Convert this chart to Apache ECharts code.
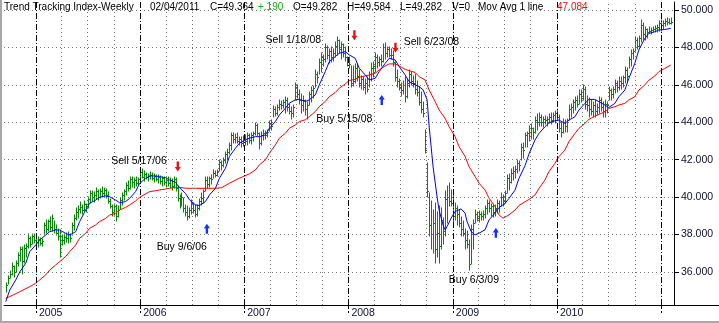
<!DOCTYPE html>
<html><head><meta charset="utf-8">
<script src="https://cdn.jsdelivr.net/npm/echarts@6/dist/echarts.min.js"></script>
<style>html,body{margin:0;padding:0;background:#fff}#c{width:719px;height:323px}</style>
</head><body><div id="c"></div>
<script>
// ---- data (weekly bars, first bar week ending 2004-09-17) ----
const firstWeek = '2004-09-17';
const lows = [
34.95,35.35,35.65,35.85,35.75,36.00,36.30,36.60,35.90,36.50,
36.80,37.30,37.35,37.50,37.55,37.40,37.35,37.45,37.40,37.95,
38.10,38.20,38.25,38.20,38.10,37.95,37.70,36.80,37.45,37.50,
37.60,37.55,37.60,37.95,38.25,38.80,38.90,39.15,39.10,39.25,
39.20,39.40,39.70,39.80,39.75,39.90,39.85,39.95,40.00,40.05,
39.95,39.70,39.40,39.00,39.05,38.70,38.95,39.35,39.60,39.85,
40.10,40.30,40.45,40.55,40.50,40.60,40.65,40.80,41.00,40.85,
40.95,40.85,40.95,40.90,40.80,40.85,40.75,40.70,40.60,40.65,
40.55,40.60,40.50,40.40,40.50,40.30,39.80,39.40,39.50,39.20,
39.00,38.80,38.90,39.10,39.15,38.95,39.00,39.30,39.55,39.70,
40.30,40.50,40.55,40.70,41.00,41.10,41.15,41.40,41.45,41.60,
41.80,42.00,42.30,42.50,42.90,42.90,42.90,42.80,42.70,42.75,
42.80,42.80,42.90,42.85,43.00,43.30,43.25,42.55,42.80,43.05,
43.10,43.20,43.55,43.60,44.30,44.35,44.40,44.65,44.70,44.75,
44.50,44.60,44.45,44.15,44.30,45.20,45.30,45.00,44.50,44.60,
44.40,44.15,44.90,45.10,45.30,45.90,46.10,46.60,46.70,47.00,
47.20,47.40,47.15,47.20,47.30,47.50,47.60,47.70,47.40,47.50,
47.30,47.00,46.90,45.90,45.95,46.10,46.20,45.90,45.80,45.70,
45.50,45.60,45.90,46.20,46.40,46.70,46.90,47.00,47.00,47.20,
47.40,47.50,47.50,47.40,47.00,46.20,45.90,45.70,45.40,45.50,
45.10,45.30,45.90,46.00,45.90,45.50,45.40,44.90,44.50,44.30,
42.35,40.00,37.90,37.20,37.00,36.50,36.80,36.45,37.20,37.50,
37.90,38.60,39.50,39.50,38.60,38.80,38.50,38.40,37.90,37.90,
37.20,37.30,36.10,36.40,37.20,38.60,38.70,38.65,38.80,38.80,
38.90,39.10,39.20,39.00,38.95,39.00,39.15,39.20,39.50,39.50,
39.70,40.20,40.40,40.75,40.90,41.00,41.30,41.40,42.00,42.10,
42.70,42.70,43.00,43.10,43.10,43.40,43.60,43.80,43.80,43.75,
43.90,43.80,43.95,43.90,44.00,43.95,44.10,43.50,43.20,43.40,
43.50,43.50,44.10,44.30,44.50,44.65,44.80,45.00,45.10,45.20,
44.70,44.60,44.30,44.40,44.30,44.30,44.40,44.50,44.60,44.30,
44.30,44.50,45.20,45.20,45.30,45.55,45.60,45.70,45.80,45.90,
46.10,46.20,46.90,47.00,47.40,47.80,47.90,48.00,48.30,48.40,
48.40,48.50,48.75,48.70,48.80,48.80,48.85,48.90,48.90,49.00,
49.15,49.20,49.25,49.28];
const highs = [
35.40,35.80,36.05,36.45,36.30,36.60,37.00,37.35,37.35,37.45,
37.50,38.00,37.85,38.00,38.00,37.95,37.85,37.80,37.75,38.60,
38.75,38.80,38.95,39.05,38.70,38.50,38.30,38.25,37.95,38.00,
38.10,38.15,38.05,38.60,39.05,39.40,39.50,39.75,39.60,39.80,
39.65,40.00,40.30,40.35,40.25,40.50,40.40,40.45,40.55,40.50,
40.45,40.25,39.90,39.60,39.65,39.55,39.50,39.95,40.20,40.40,
40.75,40.85,41.05,41.10,41.00,41.05,41.00,41.55,41.50,41.40,
41.30,41.25,41.35,41.30,41.25,41.20,41.20,41.15,41.10,41.05,
41.00,41.05,41.00,40.95,41.10,41.00,40.60,40.10,40.20,39.95,
39.60,39.50,39.40,39.85,39.70,39.60,39.55,39.90,40.20,40.40,
41.10,41.05,41.10,41.20,41.45,41.40,41.45,42.00,41.95,42.10,
42.40,42.55,42.90,43.40,43.40,43.35,43.40,43.20,43.20,43.25,
43.30,43.40,43.35,43.40,43.50,43.95,43.90,43.40,43.50,43.60,
43.55,43.60,44.05,44.10,44.85,44.80,44.90,45.20,45.15,45.20,
45.35,45.30,45.00,44.80,44.90,46.10,46.00,45.75,45.50,45.40,
45.20,45.10,45.60,45.90,45.95,46.80,46.70,47.40,47.70,47.60,
48.20,48.10,47.90,48.05,47.90,48.30,48.55,48.40,48.30,48.20,
48.00,47.50,47.50,47.00,47.00,47.10,47.10,46.80,46.50,46.40,
46.30,46.40,46.70,47.15,47.20,47.70,47.60,47.50,47.60,48.20,
48.25,48.00,48.05,47.90,47.80,47.20,46.80,46.30,46.10,46.20,
46.40,46.30,46.80,46.70,46.50,46.60,46.20,45.90,45.60,45.10,
43.60,41.80,40.20,39.80,39.30,39.70,39.20,39.50,39.40,38.90,
40.30,40.60,40.75,40.40,40.20,39.70,39.50,39.30,38.95,38.70,
38.30,38.20,37.70,38.50,38.80,39.30,39.20,39.25,39.20,39.25,
39.50,39.85,39.80,39.65,39.60,39.55,39.85,39.80,40.20,40.10,
40.30,41.20,41.25,41.50,41.60,41.65,42.00,41.95,42.85,42.90,
43.40,43.50,43.80,43.90,43.70,44.30,44.45,44.50,44.40,44.30,
44.35,44.30,44.45,44.50,44.50,44.60,44.70,44.40,44.00,44.20,
44.10,44.20,44.90,45.00,45.20,45.35,45.40,45.70,45.75,46.00,
45.90,45.40,45.30,45.20,45.10,45.20,45.00,45.35,45.30,45.10,
45.20,45.10,45.90,45.80,45.90,46.25,46.20,46.40,46.40,46.50,
46.95,46.90,47.50,47.85,47.90,48.55,48.50,48.60,49.45,49.30,
49.10,49.00,49.10,49.05,49.10,49.15,49.20,49.40,49.45,49.40,
49.50,49.55,49.50,49.58];
const closes = [
35.30,35.70,35.90,36.30,36.00,36.50,36.90,37.20,36.60,37.30,
37.40,37.80,37.50,37.90,37.70,37.60,37.75,37.55,37.65,38.50,
38.30,38.70,38.40,38.90,38.30,38.10,37.90,37.50,37.70,37.85,
37.80,38.05,37.80,38.50,38.90,39.20,39.35,39.45,39.30,39.65,
39.40,39.90,40.20,40.00,40.10,40.35,40.00,40.30,40.20,40.40,
40.10,39.80,39.50,39.20,39.50,39.00,39.30,39.85,40.10,40.30,
40.65,40.50,40.95,40.80,40.90,40.75,40.95,41.35,41.10,41.25,
41.05,41.15,41.20,41.00,41.15,40.95,41.10,40.85,41.00,40.80,
40.90,40.75,40.90,40.60,40.95,40.50,39.95,39.60,40.00,39.40,
39.20,39.00,39.30,39.70,39.30,39.10,39.40,39.80,39.95,40.30,
40.90,40.70,41.00,40.95,41.30,41.20,41.40,41.90,41.70,42.00,
42.30,42.40,42.80,43.30,43.10,43.20,43.00,43.10,42.90,43.15,
43.00,43.30,43.05,43.30,43.40,43.85,43.40,42.90,43.30,43.40,
43.30,43.50,43.95,43.80,44.70,44.50,44.80,45.00,44.90,45.10,
45.20,44.80,44.60,44.50,44.80,45.90,45.50,45.20,44.90,45.20,
44.70,44.90,45.50,45.70,45.85,46.60,46.40,47.20,47.50,47.40,
48.00,47.60,47.80,47.50,47.70,48.10,48.40,47.90,48.20,47.70,
47.50,47.20,47.10,46.10,46.20,46.90,46.50,46.10,46.30,45.90,
46.10,45.80,46.60,46.90,47.00,47.50,47.20,47.40,47.30,48.00,
47.70,47.90,47.60,47.60,47.20,46.40,46.20,45.90,45.70,46.00,
45.40,46.10,46.60,46.20,46.10,45.80,45.60,45.10,44.70,44.50,
42.50,40.30,38.50,38.00,38.60,37.20,38.10,37.40,38.80,38.20,
39.90,40.00,39.80,39.70,39.00,39.40,39.10,38.60,38.30,38.10,
37.70,37.50,36.40,38.30,38.60,39.10,38.90,39.10,39.00,39.10,
39.40,39.70,39.40,39.50,39.20,39.40,39.70,39.50,40.00,39.80,
40.20,41.00,40.80,41.30,41.40,41.50,41.80,41.70,42.70,42.50,
43.30,43.40,43.50,43.70,43.50,44.10,44.00,44.30,44.00,44.20,
44.10,44.20,44.30,44.10,44.40,44.50,44.30,43.70,43.50,44.00,
43.80,44.10,44.70,44.80,45.10,45.20,45.00,45.50,45.30,45.80,
45.00,44.90,44.70,44.60,44.90,44.60,44.80,45.20,44.80,44.60,
45.00,44.90,45.70,45.50,45.80,46.10,45.90,46.20,46.10,46.40,
46.80,46.50,47.40,47.70,47.80,48.40,48.10,48.50,49.20,48.70,
49.00,48.80,48.90,48.95,49.00,49.05,49.10,49.30,49.20,49.30,
49.40,49.35,49.30,49.36];
// moving averages: [week index, value]
const blueMA = [[0,34.41],[2,35.03],[5,35.57],[7,36.0],[10,36.46],[12,37.08],[15,37.44],[17,37.7],[20,37.97],[22,38.15],[25,38.24],[27,38.24],[30,38.06],[32,37.97],[35,38.15],[37,38.69],[40,39.31],[42,39.67],[45,39.84],[47,39.99],[50,40.06],[52,40.02],[55,39.84],[57,39.7],[60,39.76],[62,39.93],[65,40.29],[67,40.73],[70,41.0],[72,41.13],[75,41.13],[77,41.09],[80,41.04],[82,40.91],[85,40.8],[87,40.5],[90,40.2],[92,39.85],[95,39.58],[97,39.55],[100,39.76],[102,40.12],[105,40.47],[107,41.01],[110,41.54],[112,42.17],[115,42.61],[117,42.88],[120,43.06],[122,43.15],[125,43.23],[127,43.23],[130,43.32],[132,43.68],[135,44.04],[137,44.39],[140,44.75],[142,45.02],[145,45.2],[147,45.23],[150,45.11],[152,45.2],[155,45.46],[157,46.0],[160,46.71],[162,47.24],[165,47.51],[167,47.69],[170,47.78],[172,47.6],[175,47.42],[177,46.89],[180,46.53],[182,46.26],[185,46.35],[187,46.71],[190,47.15],[192,47.42],[195,47.33],[197,46.98],[200,46.53],[202,46.17],[205,46.0],[207,45.91],[209,45.73],[211,45.2],[212,43.8],[214,41.6],[216,40.0],[217,39.3],[219,38.5],[220,38.25],[221,38.42],[223,38.87],[225,39.23],[228,39.37],[230,39.14],[231,38.69],[233,38.16],[235,37.98],[237,38.07],[240,38.25],[242,38.78],[245,39.14],[247,39.44],[250,39.66],[252,39.93],[255,40.37],[257,41.0],[260,41.67],[262,42.3],[265,43.05],[267,43.4],[270,43.76],[272,43.97],[275,44.08],[277,44.12],[280,43.94],[282,44.12],[285,44.29],[287,44.65],[290,45.01],[292,45.22],[295,45.22],[297,45.1],[300,44.92],[302,44.79],[305,45.01],[307,45.36],[310,45.72],[312,46.34],[315,47.15],[317,47.86],[320,48.48],[322,48.75],[325,48.84],[327,48.93],[330,48.96],[333,49.02]];
const redMA = [[0,34.59],[2,34.68],[7,34.94],[12,35.21],[15,35.39],[17,35.57],[20,35.84],[22,36.1],[25,36.37],[27,36.55],[30,36.82],[32,37.08],[35,37.44],[37,37.8],[40,38.06],[42,38.33],[45,38.51],[47,38.69],[50,38.86],[52,39.04],[55,39.13],[57,39.31],[60,39.45],[62,39.58],[65,39.79],[67,39.99],[70,40.17],[72,40.29],[75,40.34],[77,40.38],[80,40.43],[82,40.47],[85,40.52],[87,40.52],[90,40.47],[95,40.47],[100,40.47],[105,40.47],[108,40.5],[112,40.74],[117,41.01],[122,41.24],[125,41.45],[127,41.72],[130,41.99],[132,42.34],[135,42.79],[137,43.15],[140,43.41],[142,43.68],[145,43.86],[147,44.04],[150,44.13],[152,44.3],[155,44.57],[157,44.84],[160,45.11],[162,45.37],[165,45.59],[167,45.82],[170,46.05],[172,46.23],[175,46.3],[177,46.41],[180,46.48],[182,46.53],[185,46.62],[187,46.8],[190,47.01],[192,47.12],[195,47.12],[197,47.01],[200,46.83],[202,46.76],[205,46.66],[207,46.44],[210,46.26],[212,45.73],[215,45.11],[217,44.66],[220,44.21],[222,43.77],[225,43.23],[227,42.7],[230,42.17],[232,41.63],[235,41.1],[237,40.74],[240,40.38],[242,39.94],[245,39.49],[247,39.05],[249,38.87],[250,38.87],[252,39.05],[255,39.3],[257,39.55],[260,39.75],[262,39.87],[265,40.11],[267,40.46],[270,40.91],[272,41.36],[275,41.8],[277,42.16],[280,42.51],[282,42.96],[285,43.4],[287,43.67],[290,43.94],[292,44.15],[295,44.33],[297,44.42],[300,44.56],[302,44.74],[305,44.83],[307,44.92],[310,45.01],[312,45.19],[315,45.36],[317,45.72],[320,45.99],[322,46.25],[325,46.47],[327,46.7],[330,46.88],[333,47.06]];
const yTicks = [36,38,40,42,44,46,48,50];
const yearLabels = ['2005','2006','2007','2008','2009','2010'];
const yearLines = ['2005','2006','2007','2008','2009','2010','2011'];
const quarterLines = ['2005-04-01','2005-07-01','2005-10-01','2006-04-01','2006-07-01','2006-10-01','2007-04-01','2007-07-01','2007-10-01','2008-04-01','2008-07-01','2008-10-01','2009-04-01','2009-07-01','2009-10-01','2010-04-01','2010-07-01','2010-10-01'];
const signals = [
  {date:'2008-01-22', value:48.65, dir:'sell'},
  {date:'2008-06-14', value:47.99, dir:'sell'},
  {date:'2008-04-27', value:45.19, dir:'buy'},
  {date:'2006-05-13', value:41.63, dir:'sell'},
  {date:'2006-08-23', value:38.31, dir:'buy'},
  {date:'2009-06-01', value:38.09, dir:'buy'}];
const notes = [
  {text:'Sell 1/18/08', date:'2007-06-22', value:48.40},
  {text:'Sell 6/23/08', date:'2008-10-18', value:48.29},
  {text:'Buy 5/15/08', date:'2007-12-18', value:44.15},
  {text:'Sell 5/17/06', date:'2005-12-28', value:41.92},
  {text:'Buy 9/6/06', date:'2006-05-27', value:37.30},
  {text:'Buy 6/3/09', date:'2009-03-16', value:35.57}];
const header = [
  {text:'Trend Tracking Index-Weekly', x:4, color:'#000'},
  {text:'02/04/2011', x:150, color:'#000'},
  {text:'C=49.364', x:210, color:'#000'},
  {text:'+.190', x:258, color:'#10b010'},
  {text:'O=49.282', x:293, color:'#000'},
  {text:'H=49.584', x:347, color:'#000'},
  {text:'L=49.282', x:400, color:'#000'},
  {text:'V=0', x:452, color:'#000'},
  {text:'Mov Avg 1 line', x:478, color:'#000'},
  {text:'47.084', x:557, color:'#ee1010'}];

// ---- helpers ----
const DAY = 86400000;
const T0 = Date.parse(firstWeek + 'T00:00:00Z');
const wk = i => T0 + i * 7 * DAY;
const dt = s => Date.parse((s.length === 4 ? s + '-01-01' : s) + 'T00:00:00Z');
const JAN05 = dt('2005');
const X_MIN = JAN05 - 112.2 * DAY, X_MAX = JAN05 + 2236.4 * DAY;
const FONT = 'Liberation Sans, Arial, sans-serif';
const GREEN = '#008800';

const barData = lows.map((lo, i) => [wk(i), lo, highs[i], closes[i]]);
const DOWN = 'path://M3,0 L7,0 L7,7 L10,7 L5,13 L0,7 L3,7 Z';
const UP = 'path://M5,0 L10,6 L7,6 L7,13 L3,13 L3,6 L0,6 Z';

const chart = echarts.init(document.getElementById('c'), null, {renderer:'canvas'});
chart.setOption({
  animation: false,
  backgroundColor: '#fff',
  grid: {left: 4, right: 45, top: 2, bottom: 18},
  xAxis: {
    type: 'value', min: X_MIN, max: X_MAX,
    axisLine: {show: true, lineStyle: {color: '#000', width: 1}},
    axisTick: {show: true, customValues: yearLines.map(dt), length: 8, lineStyle: {color: '#000', type: [4, 2]}},
    axisLabel: {show: true, customValues: yearLabels.map(dt), formatter: v => String(new Date(v).getUTCFullYear()),
      align: 'left', padding: [0, 0, 0, 3], margin: 3, color: '#101030', fontSize: 10.5, fontFamily: FONT,
      showMinLabel: true, showMaxLabel: true, hideOverlap: false},
    splitLine: {show: false}
  },
  yAxis: {
    type: 'value', position: 'right', min: 34.23, max: 50.43,
    axisLine: {show: true, lineStyle: {color: '#000', width: 1}},
    axisTick: {show: true, customValues: yTicks, length: 5, lineStyle: {color: '#000'}},
    axisLabel: {show: true, customValues: yTicks, formatter: v => Number(v).toFixed(3), margin: 7,
      color: '#101030', fontSize: 10.5, fontFamily: FONT, showMinLabel: true, showMaxLabel: true, hideOverlap: false},
    splitLine: {show: false}
  },
  series: [
    {
      type: 'line', data: [], silent: true, z: 1,
      markLine: {
        silent: true, symbol: 'none', animation: false, label: {show: false},
        data: [
          ...yTicks.map(v => ({yAxis: v, lineStyle: {color: '#777', type: [1, 3], width: 1}})),
          ...quarterLines.map(s => ({xAxis: dt(s), lineStyle: {color: '#777', type: [1, 3], width: 1}})),
          ...yearLines.map(s => ({xAxis: dt(s), lineStyle: {color: '#000', type: [6, 2, 1, 2], width: 1}}))
        ]
      }
    },
    {
      type: 'custom', z: 3, clip: true,
      data: barData,
      encode: {x: 0, y: [1, 2, 3]},
      renderItem: (params, api) => {
        const t = api.value(0);
        const pl = api.coord([t, api.value(1)]);
        const ph = api.coord([t, api.value(2)]);
        const pc = api.coord([t, api.value(3)]);
        const x = Math.round(pl[0]) + 0.5;
        const yc = Math.round(pc[1]) + 0.5;
        return {type: 'group', children: [
          {type: 'line', shape: {x1: x, y1: Math.round(pl[1]) + 0.5, x2: x, y2: Math.round(ph[1]) - 0.5},
            style: {stroke: GREEN, lineWidth: 1}},
          {type: 'line', shape: {x1: x - 0.5, y1: yc, x2: x + 1.5, y2: yc}, style: {stroke: GREEN, lineWidth: 1}}
        ]};
      }
    },
    {
      type: 'line', z: 4, data: redMA.map(p => [wk(p[0]), p[1]]), showSymbol: false, symbol: 'none',
      lineStyle: {color: '#ff0000', width: 1}, itemStyle: {color: '#ff0000'}
    },
    {
      type: 'line', z: 5, data: blueMA.map(p => [wk(p[0]), p[1]]), showSymbol: false, symbol: 'none',
      lineStyle: {color: '#0000ff', width: 1}, itemStyle: {color: '#0000ff'},
      markPoint: {
        silent: true, animation: false,
        data: [
          ...signals.map(s => ({coord: [dt(s.date), s.value], symbol: s.dir === 'sell' ? DOWN : UP,
            symbolSize: [6, 10], itemStyle: {color: s.dir === 'sell' ? '#ee1111' : '#1133ff'}, label: {show: false}})),
          ...notes.map(n => ({coord: [dt(n.date), n.value], symbol: 'rect', symbolSize: [1, 1],
            itemStyle: {color: 'rgba(0,0,0,0)'},
            label: {show: true, position: 'inside', formatter: n.text, color: '#000', fontSize: 10.5, fontFamily: FONT}}))
        ]
      }
    }
  ],
  graphic: [
    {type: 'line', shape: {x1: 674, y1: 305.5, x2: 719, y2: 305.5}, style: {stroke: '#000', lineWidth: 1}, silent: true},
    {type: 'rect', shape: {x: 0, y: 0, width: 2, height: 323}, style: {fill: '#a8a8a8'}, silent: true},
    {type: 'rect', shape: {x: 0, y: 321, width: 719, height: 2}, style: {fill: '#a8a8a8'}, silent: true},
    ...header.map(h => ({type: 'text', left: h.x, top: 2, silent: true, z: 10,
      style: {text: h.text, fill: h.color, fontSize: 10, fontFamily: FONT}}))
  ]
});
</script>
</body></html>
